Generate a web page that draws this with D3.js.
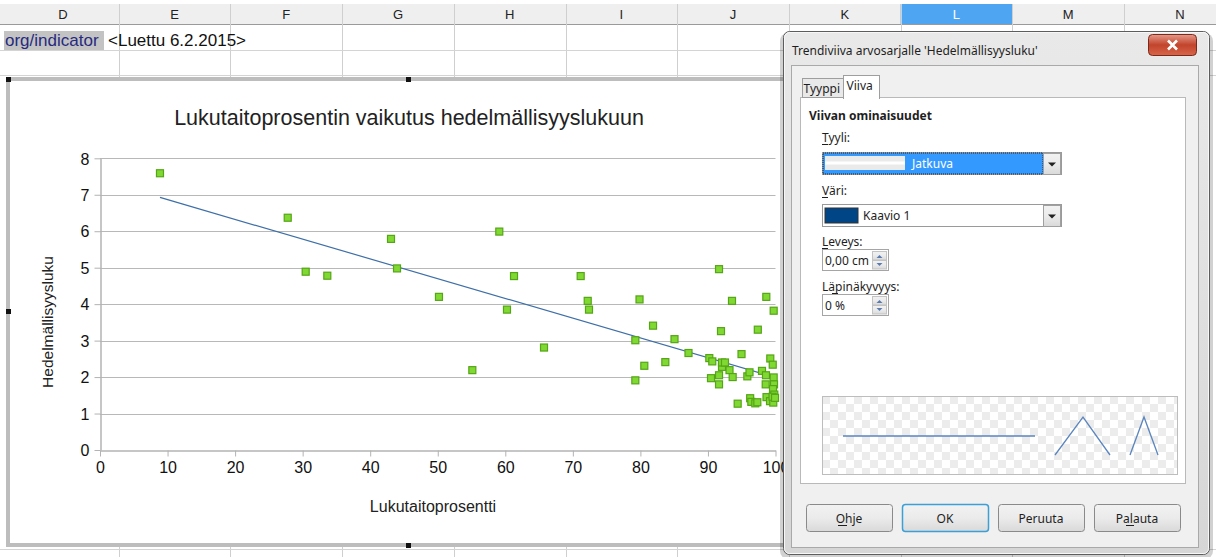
<!DOCTYPE html>
<html>
<head>
<meta charset="utf-8">
<script src="https://cdn.jsdelivr.net/npm/d3@7"></script>
<style>
  body { margin: 0; background: #fff; overflow: hidden; }
  text { font-family: "Liberation Sans", Arial, sans-serif; }
  .dlg text { font-family: "Noto Sans", "Open Sans", sans-serif; font-size: 12px; fill: #1e1e1e; }
</style>
</head>
<body>
<div id="viz-container"></div>
<script>
// data
const literacy = [8.88, 27.79, 30.45, 33.65, 43.08, 43.97, 50.18, 55.12, 59.11, 60.25,
  61.29, 65.73, 71.16, 72.20, 72.39, 79.87, 79.25, 79.25, 80.58, 81.87,
  83.69, 85.05, 87.12, 90.20, 90.64, 91.64, 91.93, 90.45, 91.64, 91.64,
  92.08, 92.08, 92.52, 93.19, 93.56, 93.66, 94.40, 94.97, 95.83, 96.15,
  96.25, 96.42, 97.01, 97.31, 97.38, 98.00, 98.64, 98.59, 98.55, 98.67,
  99.23, 99.59, 99.73, 99.73, 99.78, 99.63, 99.82, 99.19, 99.67, 99.56, 99.93];
const fertility = [7.59, 6.37, 4.89, 4.78, 5.79, 4.98, 4.20, 2.19, 5.99, 3.85,
  4.77, 2.81, 4.77, 4.09, 3.85, 4.13, 3.01, 1.91, 2.31, 3.41,
  2.41, 3.04, 2.66, 2.52, 2.43, 4.96, 3.26, 1.97, 2.05, 1.80,
  2.28, 2.40, 2.40, 2.19, 4.09, 2.00, 1.27, 2.63, 2.02, 2.13,
  1.42, 1.32, 1.28, 1.31, 3.30, 2.17, 4.20, 2.05, 1.80, 1.45,
  2.51, 2.34, 3.82, 1.99, 1.80, 1.67, 1.52, 1.34, 1.30, 1.46, 1.43];
const xTicks = [0, 10, 20, 30, 40, 50, 60, 70, 80, 90, 100];
const yTicks = [0, 1, 2, 3, 4, 5, 6, 7, 8];
const columns = ["D", "E", "F", "G", "H", "I", "J", "K", "L", "M", "N"];

const W = 1216, H = 557;
const viz = d3.select('#viz-container')
  .append('svg')
    .attr("width", W)
    .attr("height", H)
    .attr("id", "viz");

// ---- spreadsheet background ----
const colX = d3.scaleLinear().domain([0, columns.length]).range([7, 7 + 111.7 * columns.length]);

viz.append('rect').attr('x', 0).attr('y', 4).attr('width', W).attr('height', 20)
  .attr('fill', '#efefef');
viz.append('rect').attr('x', colX(8)).attr('y', 4).attr('width', colX(9) - colX(8)).attr('height', 20)
  .attr('fill', '#4ea6f3');
viz.append('line').attr('x1', 0).attr('x2', W).attr('y1', 24.5).attr('y2', 24.5)
  .attr('stroke', '#9a9a9a');
viz.selectAll('.colsep').data(d3.range(1, columns.length + 1)).enter()
  .append('line')
    .attr('x1', d => Math.round(colX(d)) + 0.5).attr('x2', d => Math.round(colX(d)) + 0.5)
    .attr('y1', 4).attr('y2', H)
    .attr('stroke', d => '#cfcfcf');
viz.selectAll('.colname').data(columns).enter()
  .append('text')
    .attr('x', (d, i) => (colX(i) + colX(i + 1)) / 2)
    .attr('y', 19)
    .attr('text-anchor', 'middle')
    .attr('font-size', 13)
    .attr('fill', (d, i) => i === 8 ? '#fff' : '#222')
    .text(d => d);
[50.5, 75.5, 549.5].forEach(y => {
  viz.append('line').attr('x1', 0).attr('x2', W).attr('y1', y).attr('y2', y).attr('stroke', '#d4d4d4');
});
viz.append('rect').attr('x', 4).attr('y', 31).attr('width', 100).attr('height', 19).attr('fill', '#c3c3c3');
viz.append('text').attr('x', 5).attr('y', 46).attr('font-size', 17).attr('fill', '#262a80').text('org/indicator');
viz.append('text').attr('x', 108).attr('y', 46).attr('font-size', 17).attr('fill', '#111').text('<Luettu 6.2.2015>');

// ---- chart object ----
viz.append('rect').attr('x', 8).attr('y', 79).attr('width', 790).attr('height', 466)
  .attr('fill', '#fff').attr('stroke', '#bdbdbd').attr('stroke-width', 4);
[[6, 77], [406, 77], [6, 309], [406, 543]].forEach(p => {
  viz.append('rect').attr('x', p[0]).attr('y', p[1]).attr('width', 5).attr('height', 5).attr('fill', '#111');
});

const x = d3.scaleLinear().domain([0, 100]).range([100, 775.5]);
const y = d3.scaleLinear().domain([0, 8]).range([450, 158.3]);

const g = viz.append('g');
g.selectAll('.grid').data(yTicks.slice(1)).enter()
  .append('line')
    .attr('x1', x(0)).attr('x2', x(100))
    .attr('y1', d => Math.round(y(d)) + 0.5).attr('y2', d => Math.round(y(d)) + 0.5)
    .attr('stroke', '#b8b8b8');

const xAxis = g.append('g').attr('transform', 'translate(0,450.5)')
  .call(d3.axisBottom(x).tickValues(xTicks).tickSize(6).tickPadding(5).tickSizeOuter(0));
const yAxis = g.append('g').attr('transform', 'translate(100.5,0)')
  .call(d3.axisLeft(y).tickValues(yTicks).tickSize(6).tickPadding(5).tickSizeOuter(0));
[xAxis, yAxis].forEach(a => {
  a.select('.domain').attr('stroke', '#b3b3b3').attr('stroke-width', 1.5);
  a.selectAll('.tick line').attr('stroke', '#b3b3b3');
  a.selectAll('.tick text').attr('font-family', '"Liberation Sans", Arial, sans-serif')
    .attr('font-size', 16).attr('fill', '#111');
});
yAxis.selectAll('.tick text').attr('dy', '0.36em');

g.append('text').attr('x', 409).attr('y', 125).attr('text-anchor', 'middle')
  .attr('font-size', 21.5).attr('fill', '#222').text('Lukutaitoprosentin vaikutus hedelmällisyyslukuun');
g.append('text').attr('x', 433).attr('y', 512).attr('text-anchor', 'middle')
  .attr('font-size', 16).attr('fill', '#222').text('Lukutaitoprosentti');
g.append('text').attr('transform', 'translate(53,322) rotate(-90)').attr('text-anchor', 'middle')
  .attr('font-size', 15.5).attr('fill', '#222').text('Hedelmällisyysluku');

// linear trend line (least squares) over the data range
const mx = d3.mean(literacy), my = d3.mean(fertility);
const slope = d3.sum(literacy, (v, i) => (v - mx) * (fertility[i] - my)) / d3.sum(literacy, v => (v - mx) ** 2);
const icpt = my - slope * mx;
const xr = d3.extent(literacy);
g.append('path')
  .datum(xr.map(v => [v, icpt + slope * v]))
  .attr('d', d3.line().x(d => x(d[0])).y(d => y(d[1])))
  .attr('stroke', '#3e6fa8').attr('stroke-width', 1.2).attr('fill', 'none');

g.selectAll('.pt').data(literacy).enter()
  .append('rect')
    .attr('x', (d) => x(d) - 3.5)
    .attr('y', (d, i) => y(fertility[i]) - 3.5)
    .attr('width', 7).attr('height', 7)
    .attr('fill', '#80d932').attr('stroke', '#55a516').attr('stroke-width', 1.2);

// ---- dialog ----
const dlg = viz.append('g').attr('class', 'dlg');
const sh = dlg.append('defs').append('linearGradient').attr('id', 'frame').attr('x1', 0).attr('x2', 0).attr('y1', 0).attr('y2', 1);
sh.append('stop').attr('offset', 0).attr('stop-color', '#e9e9e9');
sh.append('stop').attr('offset', 1).attr('stop-color', '#d6d6d6');
const rb = dlg.select('defs').append('linearGradient').attr('id', 'red').attr('x1', 0).attr('x2', 0).attr('y1', 0).attr('y2', 1);
rb.append('stop').attr('offset', 0).attr('stop-color', '#e79a8b');
rb.append('stop').attr('offset', 0.5).attr('stop-color', '#c2442c');
rb.append('stop').attr('offset', 1).attr('stop-color', '#d7664a');
const bt = dlg.select('defs').append('linearGradient').attr('id', 'btn').attr('x1', 0).attr('x2', 0).attr('y1', 0).attr('y2', 1);
bt.append('stop').attr('offset', 0).attr('stop-color', '#f2f2f2');
bt.append('stop').attr('offset', 0.5).attr('stop-color', '#ebebeb');
bt.append('stop').attr('offset', 1).attr('stop-color', '#d9d9d9');
const ck = dlg.select('defs').append('pattern').attr('id', 'check').attr('width', 16).attr('height', 16)
  .attr('patternUnits', 'userSpaceOnUse').attr('x', 822).attr('y', 396);
ck.append('rect').attr('width', 16).attr('height', 16).attr('fill', '#fff');
ck.append('rect').attr('width', 8).attr('height', 8).attr('fill', '#ececec');
ck.append('rect').attr('x', 8).attr('y', 8).attr('width', 8).attr('height', 8).attr('fill', '#ececec');

dlg.append('rect').attr('x', 780).attr('y', 33).attr('width', 433).attr('height', 526).attr('rx', 8)
  .attr('fill', '#000').attr('opacity', 0.18);
dlg.append('rect').attr('x', 783.5).attr('y', 31.5).attr('width', 426).attr('height', 523).attr('rx', 6)
  .attr('fill', 'url(#frame)').attr('stroke', '#5d5d5d');
dlg.append('rect').attr('x', 784.5).attr('y', 32.5).attr('width', 424).attr('height', 521).attr('rx', 5)
  .attr('fill', 'none').attr('stroke', '#f7f7f7');
dlg.append('text').attr('x', 792).attr('y', 55).attr('font-size', 12.5).text("Trendiviiva arvosarjalle 'Hedelmällisyysluku'");
dlg.append('rect').attr('x', 1148.5).attr('y', 34.5).attr('width', 48).attr('height', 21).attr('rx', 4)
  .attr('fill', 'url(#red)').attr('stroke', '#7a2a1c');
dlg.append('path').attr('d', 'M1168,40.5l9,9M1177,40.5l-9,9').attr('stroke', '#fff').attr('stroke-width', 2.6);

dlg.append('rect').attr('x', 791.5).attr('y', 65.5).attr('width', 407).attr('height', 482)
  .attr('fill', '#f0f0f0').attr('stroke', '#a9a9a9');
dlg.append('rect').attr('x', 800.5).attr('y', 97.5).attr('width', 385).attr('height', 386)
  .attr('fill', '#fff').attr('stroke', '#b9b9b9');
// tabs
dlg.append('rect').attr('x', 802.5).attr('y', 78.5).attr('width', 41).attr('height', 19)
  .attr('fill', '#e9e9e9').attr('stroke', '#9e9e9e');
dlg.append('rect').attr('x', 843.5).attr('y', 75.5).attr('width', 36).attr('height', 23)
  .attr('fill', '#fff').attr('stroke', '#9e9e9e');
dlg.append('rect').attr('x', 844).attr('y', 96).attr('width', 35).attr('height', 3).attr('fill', '#fff');
dlg.append('text').attr('x', 803.5).attr('y', 93).attr('font-size', 13).text('Tyyppi');
dlg.append('text').attr('x', 846.5).attr('y', 90).attr('font-size', 13).text('Viiva');

dlg.append('text').attr('x', 809).attr('y', 120).attr('font-weight', 'bold').text('Viivan ominaisuudet');
const label = (txt, yy, ul) => {
  const t = dlg.append('text').attr('x', 822).attr('y', yy).text(txt);
  dlg.append('line').attr('x1', 822).attr('x2', 822 + ul).attr('y1', yy + 2.5).attr('y2', yy + 2.5).attr('stroke', '#1e1e1e');
};
label('Tyyli:', 142, 6);
label('Väri:', 195, 6);
label('Leveys:', 246, 6);
label('Läpinäkyvyys:', 291, 0);
dlg.append('line').attr('x1', 832).attr('x2', 838).attr('y1', 293.5).attr('y2', 293.5).attr('stroke', '#1e1e1e');

// style combo
dlg.append('rect').attr('x', 822.5).attr('y', 152.5).attr('width', 239).attr('height', 22)
  .attr('fill', '#fff').attr('stroke', '#9a9a9a');
dlg.append('rect').attr('x', 823).attr('y', 153).attr('width', 220).attr('height', 21).attr('fill', '#3399ff')
  .attr('stroke', '#222').attr('stroke-dasharray', '1,1');
dlg.append('rect').attr('x', 825).attr('y', 156).attr('width', 80).attr('height', 14).attr('fill', '#eaeaea');
dlg.append('line').attr('x1', 825).attr('x2', 905).attr('y1', 163).attr('y2', 163).attr('stroke', '#fff').attr('stroke-width', 3);
dlg.append('text').attr('x', 912).attr('y', 168).attr('font-size', 12.5).style('fill', '#fff').text('Jatkuva');
const arrowBtn = (bx, by, bh) => {
  dlg.append('rect').attr('x', bx + 0.5).attr('y', by + 0.5).attr('width', 17).attr('height', bh)
    .attr('fill', 'url(#btn)').attr('stroke', '#a0a0a0');
  dlg.append('path').attr('d', `M${bx + 5},${by + bh / 2 - 1}h8l-4,4z`).attr('fill', '#222');
};
arrowBtn(1043, 153, 21);

// colour combo
dlg.append('rect').attr('x', 822.5).attr('y', 204.5).attr('width', 239).attr('height', 22)
  .attr('fill', '#fff').attr('stroke', '#9a9a9a');
dlg.append('rect').attr('x', 825).attr('y', 208).attr('width', 33).attr('height', 15)
  .attr('fill', '#004586').attr('stroke', '#333');
dlg.append('text').attr('x', 863).attr('y', 220).attr('font-size', 12.5).text('Kaavio 1');
arrowBtn(1043, 205, 21);

// spin boxes
const spin = (sy, val) => {
  dlg.append('rect').attr('x', 822.5).attr('y', sy + 0.5).attr('width', 66).attr('height', 21)
    .attr('fill', '#fff').attr('stroke', '#a5a5a5');
  dlg.append('rect').attr('x', 872.5).attr('y', sy + 2.5).attr('width', 14).attr('height', 8.5)
    .attr('fill', 'url(#btn)').attr('stroke', '#c3c3c3');
  dlg.append('rect').attr('x', 872.5).attr('y', sy + 11.5).attr('width', 14).attr('height', 8.5)
    .attr('fill', 'url(#btn)').attr('stroke', '#c3c3c3');
  dlg.append('path').attr('d', `M876.5,${sy + 9}l3,-3l3,3z`).attr('fill', '#5a7bb0');
  dlg.append('path').attr('d', `M876.5,${sy + 14}l3,3l3,-3z`).attr('fill', '#5a7bb0');
  dlg.append('text').attr('x', 825).attr('y', sy + 16).attr('font-size', 12.5).text(val);
};
spin(249, '0,00 cm');
spin(294, '0 %');

// preview
dlg.append('rect').attr('x', 822.5).attr('y', 396.5).attr('width', 355).attr('height', 78)
  .attr('fill', 'url(#check)').attr('stroke', '#bdbdbd');
const pv = '#5b86bf';
dlg.append('line').attr('x1', 843).attr('x2', 1035).attr('y1', 436).attr('y2', 436).attr('stroke', pv).attr('stroke-width', 1.5);
dlg.append('path').attr('d', 'M1055,455L1083,417L1110,455').attr('stroke', pv).attr('stroke-width', 1.3).attr('fill', 'none');
dlg.append('path').attr('d', 'M1130,455L1144,417L1158,455').attr('stroke', pv).attr('stroke-width', 1.3).attr('fill', 'none');

// buttons
const buttons = [['Ohje', 806], ['OK', 902], ['Peruuta', 998], ['Palauta', 1094]];
buttons.forEach(([name, bx]) => {
  dlg.append('rect').attr('x', bx + 0.5).attr('y', 504.5).attr('width', 86).attr('height', 27).attr('rx', 3)
    .attr('fill', 'url(#btn)').attr('stroke', name === 'OK' ? '#3c9fd6' : '#8a8a8a')
    .attr('stroke-width', name === 'OK' ? 1.5 : 1);
  dlg.append('text').attr('x', bx + 43).attr('y', 523).attr('text-anchor', 'middle').attr('font-size', 12.5).text(name);
});
dlg.append('line').attr('x1', 838).attr('x2', 847).attr('y1', 525.5).attr('y2', 525.5).attr('stroke', '#1e1e1e');
dlg.append('line').attr('x1', 1126).attr('x2', 1134).attr('y1', 525.5).attr('y2', 525.5).attr('stroke', '#1e1e1e');
</script>
</body>
</html>
